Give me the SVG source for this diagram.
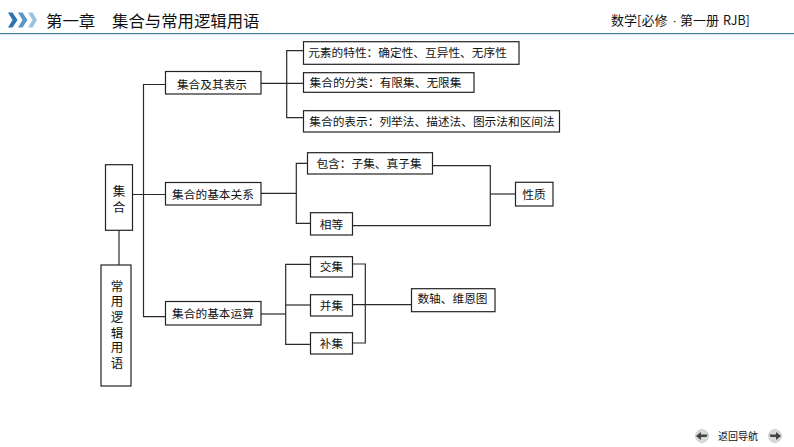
<svg xmlns="http://www.w3.org/2000/svg" width="794" height="447" viewBox="0 0 794 447">
<style>
text{font-family:"Noto Sans CJK SC","Liberation Sans",sans-serif;fill:#111}
.b rect{fill:#fff;stroke:#222;stroke-width:1.2}
.b text{font-size:11.7px;text-anchor:middle}
.b text.v{font-size:12.5px;font-family:"Liberation Sans","Noto Sans CJK SC",sans-serif}
#connectors path{fill:none;stroke:#2a2a2a;stroke-width:1.2}
.nav{fill:#d9d9d9;stroke:#bbb;stroke-width:.6}
.arr{fill:#444}
</style>
<rect width="794" height="447" fill="#fff"/>
<g id="header">
<path d="M8 12.500h4.500l5 7.500-5 7.500H8l4.500-7.500z" fill="#2f73ad"/>
<path d="M18 12.500h4.500l5 7.500-5 7.500H18l4.500-7.500z" fill="#5b96c6"/>
<path d="M28 12.500h4.500l4.500 7.500-4.500 7.500H28l4.500-7.500z" fill="#9dc1de"/>
<text x="46" y="27" font-size="16.400">第一章</text>
<text x="112" y="27" font-size="16.400">集合与常用逻辑用语</text>
<text y="25" font-size="13"><tspan x="611">数学[必修</tspan><tspan x="672.500" font-family="Liberation Sans">·</tspan><tspan x="680">第一册</tspan><tspan x="723" font-size="12.500">RJB]</tspan></text>
<rect x="0" y="33" width="794" height="1.200" fill="#3f7fa8"/>
</g>
<g id="connectors">
<path d="M165.500 84.500H143.500V316.700H165.500"/>
<path d="M132.500 194.500H165.500"/>
<path d="M119 230V265"/>
<path d="M261 83.300H303"/>
<path d="M303.500 50.700H286.700V117.700H303.500"/>
<path d="M261 193.300H296.300"/>
<path d="M307.500 163.300H296.300V223.300H310.500"/>
<path d="M432.500 165.700H490.300V225.700H352.500"/>
<path d="M490.300 194H515.500"/>
<path d="M261 314H285.700"/>
<path d="M310.500 264.300H285.700V344.300H310.500"/>
<path d="M285.700 305H310.500"/>
<path d="M352.500 264H365.300V343H352.500"/>
<path d="M352.500 304.700H411.500"/>
</g>
<g id="n-jihe" class="b"><rect x="105.500" y="164.700" width="27" height="65.600"/><text class="v"><tspan x="119" y="195.500">集</tspan><tspan x="119" y="211.500">合</tspan></text></g>
<g id="n-changyong" class="b"><rect x="101" y="265" width="30" height="121"/>
<text class="v"><tspan x="117" y="290.500">常</tspan><tspan x="117" y="306">用</tspan><tspan x="117" y="321.500">逻</tspan><tspan x="117" y="337.500">辑</tspan><tspan x="117" y="352">用</tspan><tspan x="117" y="367.500">语</tspan></text></g>
<g id="n-biaoshi" class="b"><rect x="165.500" y="71.500" width="95.500" height="22.500"/><text x="212" y="88.500">集合及其表示</text></g>
<g id="n-guanxi" class="b"><rect x="165.500" y="182.500" width="95.500" height="22.500"/><text x="213" y="199">集合的基本关系</text></g>
<g id="n-yunsuan" class="b"><rect x="165.500" y="301.500" width="95.500" height="23.500"/><text x="213" y="318">集合的基本运算</text></g>
<g id="n-texing" class="b"><rect x="303.500" y="41.700" width="215.500" height="22.600"/><text x="407.500" y="57">元素的特性：确定性、互异性、无序性</text></g>
<g id="n-fenlei" class="b"><rect x="303.500" y="72.700" width="170.500" height="19.600"/><text x="385.500" y="87">集合的分类：有限集、无限集</text></g>
<g id="n-fa" class="b"><rect x="303.500" y="110.700" width="256" height="21.300"/><text x="432" y="125.500">集合的表示：列举法、描述法、图示法和区间法</text></g>
<g id="n-baohan" class="b"><rect x="307.500" y="152.700" width="125" height="21.300"/><text x="369" y="168">包含：子集、真子集</text></g>
<g id="n-xiangdeng" class="b"><rect x="310.500" y="212.700" width="42" height="22.300"/><text x="331.500" y="229">相等</text></g>
<g id="n-xingzhi" class="b"><rect x="515.500" y="182.300" width="37.500" height="23.700"/><text x="534" y="199">性质</text></g>
<g id="n-jiao" class="b"><rect x="310.500" y="256.700" width="42" height="20.300"/><text x="331.500" y="271">交集</text></g>
<g id="n-bing" class="b"><rect x="310.500" y="294.700" width="42" height="21.300"/><text x="331.500" y="310">并集</text></g>
<g id="n-bu" class="b"><rect x="310.500" y="332.700" width="42" height="21.300"/><text x="331.500" y="348">补集</text></g>
<g id="n-shuzhou" class="b"><rect x="411.500" y="288.700" width="83.500" height="23"/><text x="452.500" y="303">数轴、维恩图</text></g>
<g id="nav">
<circle class="nav" cx="702" cy="436" r="6.500"/><path class="arr" d="M696 436l5-4v2.500h6.500l-1 2.500H701v3z"/>
<text x="718" y="439.500" font-size="10">返回导航</text>
<circle class="nav" cx="775" cy="436" r="6.500"/><path class="arr" d="M781 436l-5-4v2.500h-6.500l1 2.500H776v3z"/>
</g>
</svg>
